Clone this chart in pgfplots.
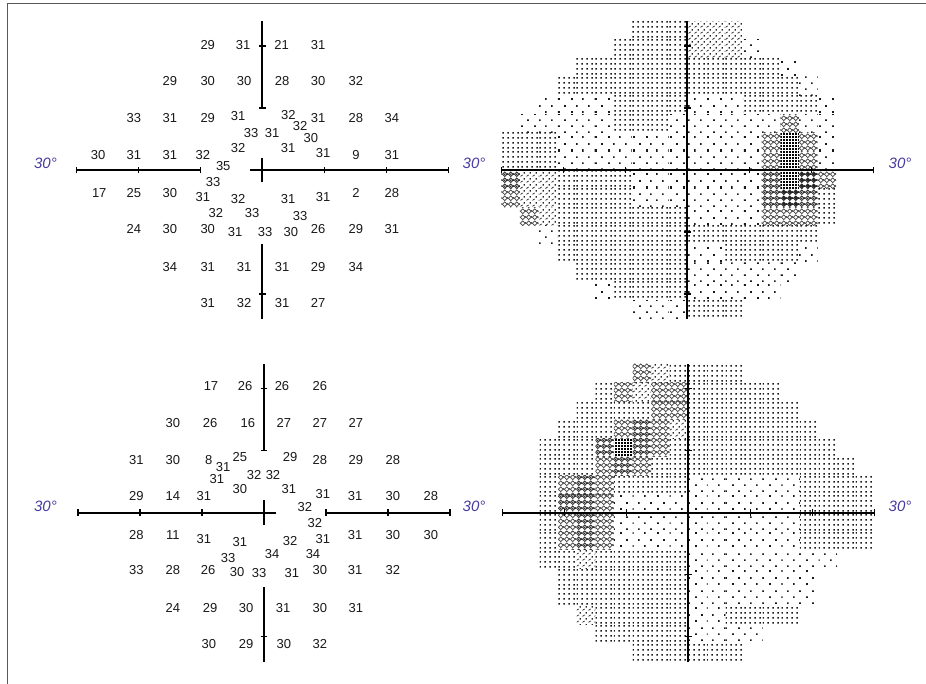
\documentclass[border=0pt]{standalone}
\usepackage{pgfplots}
\pgfplotsset{compat=1.18}
\usepackage{pgfplotstable}
\usepackage{fontspec}
\setmainfont{Liberation Sans}
\usetikzlibrary{patterns}
\definecolor{lblblue}{RGB}{72,60,160}

% grayscale symbols (Humphrey-like)
\pgfdeclarepatterninherentlycolored{gs1}{\pgfpointorigin}{\pgfqpoint{12.4pt}{12.4pt}}{\pgfqpoint{12.4pt}{12.4pt}}{%
  \pgfsetfillcolor{black!90}%
  \pgfpathrectangle{\pgfqpoint{0.2pt}{0.2pt}}{\pgfqpoint{1.6pt}{1.6pt}}%
  \pgfpathrectangle{\pgfqpoint{6.4pt}{6.4pt}}{\pgfqpoint{1.6pt}{1.6pt}}%
  \pgfusepath{fill}}
\pgfdeclarepatterninherentlycolored{gs2}{\pgfpointorigin}{\pgfqpoint{4.65pt}{4.65pt}}{\pgfqpoint{4.65pt}{4.65pt}}{%
  \pgfsetfillcolor{black!90}%
  \pgfpathrectangle{\pgfqpoint{0.3pt}{0.3pt}}{\pgfqpoint{1.6pt}{1.6pt}}%
  \pgfusepath{fill}}
\pgfdeclarepatterninherentlycolored{gs3}{\pgfpointorigin}{\pgfqpoint{6.2pt}{6.2pt}}{\pgfqpoint{6.2pt}{6.2pt}}{%
  \pgfsetstrokecolor{black!85}\pgfsetfillcolor{black!85}%
  \pgfsetlinewidth{0.8pt}%
  \pgfpathmoveto{\pgfqpoint{0.5pt}{0.7pt}}\pgfpathlineto{\pgfqpoint{3.0pt}{2.3pt}}\pgfusepath{stroke}%
  \pgfpathrectangle{\pgfqpoint{4.0pt}{3.9pt}}{\pgfqpoint{1.5pt}{1.5pt}}\pgfusepath{fill}}
\pgfdeclarepatterninherentlycolored{gs4}{\pgfpointorigin}{\pgfqpoint{6.2pt}{6.2pt}}{\pgfqpoint{6.2pt}{6.2pt}}{%
  \pgfsetstrokecolor{black!75}%
  \pgfsetlinewidth{0.8pt}%
  \pgfpathmoveto{\pgfqpoint{3.1pt}{0.5pt}}\pgfpathlineto{\pgfqpoint{5.7pt}{3.1pt}}%
  \pgfpathlineto{\pgfqpoint{3.1pt}{5.7pt}}\pgfpathlineto{\pgfqpoint{0.5pt}{3.1pt}}\pgfpathclose
  \pgfusepath{stroke}}
\pgfdeclarepatterninherentlycolored{gs5}{\pgfpointorigin}{\pgfqpoint{6.2pt}{6.2pt}}{\pgfqpoint{6.2pt}{6.2pt}}{%
  \pgfsetstrokecolor{black!80}\pgfsetfillcolor{black!80}%
  \pgfsetlinewidth{1.0pt}%
  \pgfpathmoveto{\pgfqpoint{3.1pt}{0.6pt}}\pgfpathlineto{\pgfqpoint{5.6pt}{3.1pt}}%
  \pgfpathlineto{\pgfqpoint{3.1pt}{5.6pt}}\pgfpathlineto{\pgfqpoint{0.6pt}{3.1pt}}\pgfpathclose
  \pgfusepath{stroke}%
  \pgfpathrectangle{\pgfqpoint{2.3pt}{2.3pt}}{\pgfqpoint{1.6pt}{1.6pt}}\pgfusepath{fill}}
\pgfdeclarepatterninherentlycolored{gs6}{\pgfpointorigin}{\pgfqpoint{6.2pt}{6.2pt}}{\pgfqpoint{6.2pt}{6.2pt}}{%
  \pgfsetstrokecolor{black!85}\pgfsetfillcolor{black!85}%
  \pgfsetlinewidth{1.3pt}%
  \pgfpathmoveto{\pgfqpoint{3.1pt}{0.7pt}}\pgfpathlineto{\pgfqpoint{5.5pt}{3.1pt}}%
  \pgfpathlineto{\pgfqpoint{3.1pt}{5.5pt}}\pgfpathlineto{\pgfqpoint{0.7pt}{3.1pt}}\pgfpathclose
  \pgfusepath{stroke}%
  \pgfpathrectangle{\pgfqpoint{2.0pt}{2.0pt}}{\pgfqpoint{2.2pt}{2.2pt}}\pgfusepath{fill}}
\pgfdeclarepatterninherentlycolored{gs7}{\pgfpointorigin}{\pgfqpoint{3pt}{3pt}}{\pgfqpoint{3pt}{3pt}}{%
  \pgfsetfillcolor{black}%
  \pgfpathrectangle{\pgfqpoint{0pt}{0pt}}{\pgfqpoint{2.3pt}{2.3pt}}\pgfusepath{fill}}

% test-point thresholds (degrees, label)
\pgfplotstableread{
x y t
-8.8 20.2 29
-3.1 20.2 31
3.1 20.2 21
9.0 20.2 31
-14.9 14.35 29
-8.8 14.35 30
-2.95 14.35 30
3.2 14.35 28
9.0 14.35 30
15.1 14.35 32
-20.7 8.4 33
-14.9 8.4 31
-8.8 8.4 29
-3.9 8.7 31
4.2 8.9 32
9.0 8.4 31
15.1 8.4 28
20.9 8.4 34
-1.8 6.0 33
1.6 6.0 31
6.1 7.1 32
7.85 5.2 30
-3.9 3.55 32
4.15 3.55 31
-26.5 2.4 30
-20.7 2.4 31
-14.9 2.4 31
-9.6 2.4 32
9.8 2.7 31
15.1 2.4 9
20.9 2.4 31
-6.3 0.65 35
-7.95 -1.95 33
-26.3 -3.7 17
-20.7 -3.7 25
-14.9 -3.7 30
-9.6 -4.35 31
-3.9 -4.7 32
4.15 -4.7 31
9.8 -4.35 31
15.1 -3.7 2
20.9 -3.7 28
-7.5 -6.95 32
-1.65 -6.95 33
6.1 -7.4 33
-20.7 -9.5 24
-14.9 -9.5 30
-8.8 -9.5 30
-4.4 -10.0 31
0.45 -10.0 33
4.6 -10.0 30
9.0 -9.5 26
15.1 -9.5 29
20.9 -9.5 31
-14.9 -15.65 34
-8.8 -15.65 31
-2.95 -15.65 31
3.2 -15.65 31
9.0 -15.65 29
15.1 -15.65 34
-8.8 -21.45 31
-2.95 -21.45 32
3.2 -21.45 31
9.0 -21.45 27
}\numA

\pgfplotstableread{
x y t
-8.55 20.4 17
-3.05 20.4 26
2.9 20.4 26
9.0 20.4 26
-14.7 14.5 30
-8.7 14.5 26
-2.6 14.5 16
3.2 14.5 27
9.0 14.5 27
14.8 14.5 27
-20.6 8.5 31
-14.7 8.5 30
-8.9 8.5 8
-3.9 9.0 25
4.2 9.0 29
9.0 8.5 28
14.8 8.5 29
20.8 8.5 28
-6.6 7.4 31
-1.6 6.1 32
1.45 6.1 32
-7.6 5.4 31
-3.9 3.8 30
4.0 3.8 31
-20.6 2.7 29
-14.7 2.7 14
-9.7 2.7 31
9.5 3.0 31
14.7 2.7 31
20.8 2.7 30
26.9 2.7 28
6.6 0.9 32
8.2 -1.7 32
-20.6 -3.6 28
-14.7 -3.6 11
-9.7 -4.2 31
-3.9 -4.7 31
4.2 -4.6 32
9.5 -4.2 31
14.7 -3.6 31
20.8 -3.6 30
26.9 -3.6 30
-5.8 -7.3 33
1.3 -6.7 34
7.9 -6.7 34
-20.6 -9.2 33
-14.7 -9.2 28
-9.0 -9.2 26
-4.35 -9.6 30
-0.8 -9.7 33
4.5 -9.7 31
9.0 -9.2 30
14.7 -9.2 31
20.8 -9.2 32
-14.7 -15.4 24
-8.7 -15.4 29
-2.9 -15.4 30
3.1 -15.4 31
9.0 -15.4 30
14.8 -15.4 31
-8.9 -21.2 30
-2.9 -21.2 29
3.2 -21.2 30
9.0 -21.2 32
}\numB

% grayscale level per 3-degree cell (columns c0..c19: x centres -28.5 ... 28.5)
\pgfplotstableread{
y c0 c1 c2 c3 c4 c5 c6 c7 c8 c9 c10 c11 c12 c13 c14 c15 c16 c17 c18 c19
22.5  0 0 0 0 0 0 0 2 2 2 3 3 3 0 0 0 0 0 0 0
19.5  0 0 0 0 0 0 2 2 2 2 3 3 3 1 0 0 0 0 0 0
16.5  0 0 0 0 2 2 2 2 2 2 2 2 2 2 2 1 0 0 0 0
13.5  0 0 0 2 2 2 2 2 2 2 2 2 2 2 2 2 1 0 0 0
10.5  0 0 1 1 1 1 2 2 2 2 1 1 1 2 2 2 2 1 0 0
7.5   0 1 1 1 1 1 2 2 2 1 1 1 1 1 1 4 1 1 0 0
4.5   2 2 2 1 1 1 1 1 1 1 1 1 1 1 4 7 4 1 0 0
1.5   2 2 2 1 1 1 1 1 1 1 1 1 1 1 4 7 4 1 0 0
-1.5  5 3 3 2 2 2 2 1 1 1 1 1 1 1 5 7 6 4 0 0
-4.5  4 3 3 2 2 2 2 1 1 1 1 1 1 1 5 6 5 2 0 0
-7.5  0 4 3 2 2 2 2 2 2 2 1 1 1 1 4 4 4 2 0 0
-10.5 0 0 1 2 2 2 2 2 2 2 2 2 2 2 2 2 2 0 0 0
-13.5 0 0 0 2 2 2 2 2 2 2 1 1 2 2 2 2 1 0 0 0
-16.5 0 0 0 0 2 2 2 2 2 2 1 1 1 1 1 1 0 0 0 0
-19.5 0 0 0 0 0 1 2 2 2 2 1 1 1 1 1 0 0 0 0 0
-22.5 0 0 0 0 0 0 0 1 1 1 2 2 2 0 0 0 0 0 0 0
}\grayA

\pgfplotstableread{
y c0 c1 c2 c3 c4 c5 c6 c7 c8 c9 c10 c11 c12 c13 c14 c15 c16 c17 c18 c19
22.5  0 0 0 0 0 0 0 4 3 2 2 2 2 0 0 0 0 0 0 0
19.5  0 0 0 0 0 2 4 3 4 4 2 2 2 2 2 0 0 0 0 0
16.5  0 0 0 0 2 2 2 2 4 4 2 2 2 2 2 2 0 0 0 0
13.5  0 0 0 2 2 2 4 5 4 3 2 2 2 2 2 2 2 0 0 0
10.5  0 0 2 2 2 5 7 5 4 2 2 2 2 2 2 2 2 2 0 0
7.5   0 0 2 2 2 4 5 4 2 2 2 2 2 2 2 2 2 2 2 0
4.5   0 0 2 4 5 4 2 2 2 2 1 1 1 1 1 1 2 2 2 2
1.5   0 0 2 5 5 4 1 1 1 1 1 1 1 1 1 1 2 2 2 2
-1.5  0 0 2 4 5 4 1 1 1 1 1 1 1 1 1 1 2 2 2 2
-4.5  0 0 2 4 5 4 1 1 1 1 1 1 1 1 1 1 2 2 2 2
-7.5  0 0 2 2 3 2 2 2 2 2 1 1 1 1 1 1 1 1 0 0
-10.5 0 0 0 2 2 2 2 2 2 2 1 1 1 1 1 1 1 0 0 0
-13.5 0 0 0 2 2 2 2 2 2 2 1 1 1 1 1 1 1 0 0 0
-16.5 0 0 0 0 3 2 2 2 2 2 1 1 2 2 2 2 0 0 0 0
-19.5 0 0 0 0 0 2 2 2 2 2 1 1 1 1 0 0 0 0 0 0
-22.5 0 0 0 0 0 0 0 2 2 2 2 2 2 0 0 0 0 0 0 0
}\grayB

\pgfplotsset{
  panel/.style={anchor=center, x=6.2pt, y=6.2pt, xmin=-31, xmax=31, ymin=-25, ymax=25,
    hide axis, clip=false},
  numstyle/.style={draw=none, mark=none, point meta=explicit symbolic,
    nodes near coords={\pgfplotspointmeta}, nodes near coords align={center},
    every node near coord/.append style={font=\fontsize{13}{15}\selectfont, text=black!90, inner sep=0pt}},
  gscell/.style={draw=none, mark=none, point meta=explicit symbolic,
    nodes near coords={}, nodes near coords align={center},
    every node near coord/.append style={rectangle, inner sep=0pt, minimum width=18.6pt,
      minimum height=18.6pt, pattern=gs\pgfplotspointmeta}},
}
\tikzset{axl/.style={line width=1.7pt, black}, tk/.style={line width=1.3pt, black},
  lbl/.style={font=\itshape\fontsize{15}{16}\selectfont, text=lblblue}}

\begin{document}
\begin{tikzpicture}
\useasboundingbox (0,0) rectangle (926pt,-684pt);
\fill[white] (0,0) rectangle (926pt,-684pt);
\draw[line width=1.5pt, black!65] (7.5pt,-684pt) -- (7.5pt,-3.3pt) -- (926pt,-3.3pt);

% ---------- top left: thresholds
\begin{axis}[panel, at={(262.3pt,-170pt)}]
\addplot[numstyle] table[x=x, y=y, meta=t] {\numA};
\draw[axl] (axis cs:-30,0) -- (axis cs:-10,0);
\draw[axl] (axis cs:-2,0) -- (axis cs:30,0);
\draw[axl] (axis cs:0,10) -- (axis cs:0,24);
\draw[axl] (axis cs:0,-2) -- (axis cs:0,2);
\draw[axl] (axis cs:0,-12) -- (axis cs:0,-24);
\draw[tk] (axis cs:-30,-0.55) -- (axis cs:-30,0.55);
\draw[tk] (axis cs:-20,-0.55) -- (axis cs:-20,0.55);
\draw[tk] (axis cs:-10,-0.55) -- (axis cs:-10,0.55);
\draw[tk] (axis cs:10,-0.55) -- (axis cs:10,0.55);
\draw[tk] (axis cs:20,-0.55) -- (axis cs:20,0.55);
\draw[tk] (axis cs:30,-0.55) -- (axis cs:30,0.55);
\draw[tk] (axis cs:-0.55,20) -- (axis cs:0.55,20);
\draw[tk] (axis cs:-0.55,10) -- (axis cs:0.55,10);
\draw[tk] (axis cs:-0.55,-20) -- (axis cs:0.55,-20);
\end{axis}

% ---------- top right: grayscale
\begin{axis}[panel, at={(687.3pt,-170pt)}]
\pgfplotsinvokeforeach{0,...,19}{
  \addplot[gscell, restrict expr to domain={\thisrow{c#1}}{1:9}]
    table[x expr={-28.5+3*#1}, y=y, meta=c#1] {\grayA};
}
\end{axis}
\begin{axis}[panel, at={(687.3pt,-170pt)}]
\draw[axl] (axis cs:-30,0) -- (axis cs:30,0);
\draw[axl] (axis cs:0,-24) -- (axis cs:0,24);
\draw[tk] (axis cs:-30,-0.55) -- (axis cs:-30,0.55);
\draw[tk] (axis cs:-20,-0.55) -- (axis cs:-20,0.55);
\draw[tk] (axis cs:-10,-0.55) -- (axis cs:-10,0.55);
\draw[tk] (axis cs:10,-0.55) -- (axis cs:10,0.55);
\draw[tk] (axis cs:20,-0.55) -- (axis cs:20,0.55);
\draw[tk] (axis cs:30,-0.55) -- (axis cs:30,0.55);
\draw[tk] (axis cs:-0.55,20) -- (axis cs:0.55,20);
\draw[tk] (axis cs:-0.55,10) -- (axis cs:0.55,10);
\draw[tk] (axis cs:-0.55,-10) -- (axis cs:0.55,-10);
\draw[tk] (axis cs:-0.55,-20) -- (axis cs:0.55,-20);
\end{axis}

% ---------- bottom left: thresholds
\begin{axis}[panel, at={(264pt,-512.7pt)}]
\addplot[numstyle] table[x=x, y=y, meta=t] {\numB};
\draw[axl] (axis cs:-30,0) -- (axis cs:2,0);
\draw[axl] (axis cs:10,0) -- (axis cs:30,0);
\draw[axl] (axis cs:0,10) -- (axis cs:0,24);
\draw[axl] (axis cs:0,-2) -- (axis cs:0,2);
\draw[axl] (axis cs:0,-12) -- (axis cs:0,-24);
\draw[tk] (axis cs:-30,-0.55) -- (axis cs:-30,0.55);
\draw[tk] (axis cs:-20,-0.55) -- (axis cs:-20,0.55);
\draw[tk] (axis cs:-10,-0.55) -- (axis cs:-10,0.55);
\draw[tk] (axis cs:10,-0.55) -- (axis cs:10,0.55);
\draw[tk] (axis cs:20,-0.55) -- (axis cs:20,0.55);
\draw[tk] (axis cs:30,-0.55) -- (axis cs:30,0.55);
\draw[tk] (axis cs:-0.55,20) -- (axis cs:0.55,20);
\draw[tk] (axis cs:-0.55,10) -- (axis cs:0.55,10);
\draw[tk] (axis cs:-0.55,-20) -- (axis cs:0.55,-20);
\end{axis}

% ---------- bottom right: grayscale
\begin{axis}[panel, at={(688.3pt,-512.7pt)}]
\pgfplotsinvokeforeach{0,...,19}{
  \addplot[gscell, restrict expr to domain={\thisrow{c#1}}{1:9}]
    table[x expr={-28.5+3*#1}, y=y, meta=c#1] {\grayB};
}
\end{axis}
\begin{axis}[panel, at={(688.3pt,-512.7pt)}]
\draw[axl] (axis cs:-30,0) -- (axis cs:30,0);
\draw[axl] (axis cs:0,-24) -- (axis cs:0,24);
\draw[tk] (axis cs:-30,-0.55) -- (axis cs:-30,0.55);
\draw[tk] (axis cs:-20,-0.55) -- (axis cs:-20,0.55);
\draw[tk] (axis cs:-10,-0.55) -- (axis cs:-10,0.55);
\draw[tk] (axis cs:10,-0.55) -- (axis cs:10,0.55);
\draw[tk] (axis cs:20,-0.55) -- (axis cs:20,0.55);
\draw[tk] (axis cs:30,-0.55) -- (axis cs:30,0.55);
\draw[tk] (axis cs:-0.55,20) -- (axis cs:0.55,20);
\draw[tk] (axis cs:-0.55,10) -- (axis cs:0.55,10);
\draw[tk] (axis cs:-0.55,-10) -- (axis cs:0.55,-10);
\draw[tk] (axis cs:-0.55,-20) -- (axis cs:0.55,-20);
\end{axis}

% eccentricity labels
\node[lbl] at (45.5pt,-163.5pt) {30°};
\node[lbl] at (474pt,-163.5pt) {30°};
\node[lbl] at (900pt,-163.5pt) {30°};
\node[lbl] at (45.5pt,-506.5pt) {30°};
\node[lbl] at (474pt,-506.5pt) {30°};
\node[lbl] at (900pt,-506.5pt) {30°};
\end{tikzpicture}
\end{document}
